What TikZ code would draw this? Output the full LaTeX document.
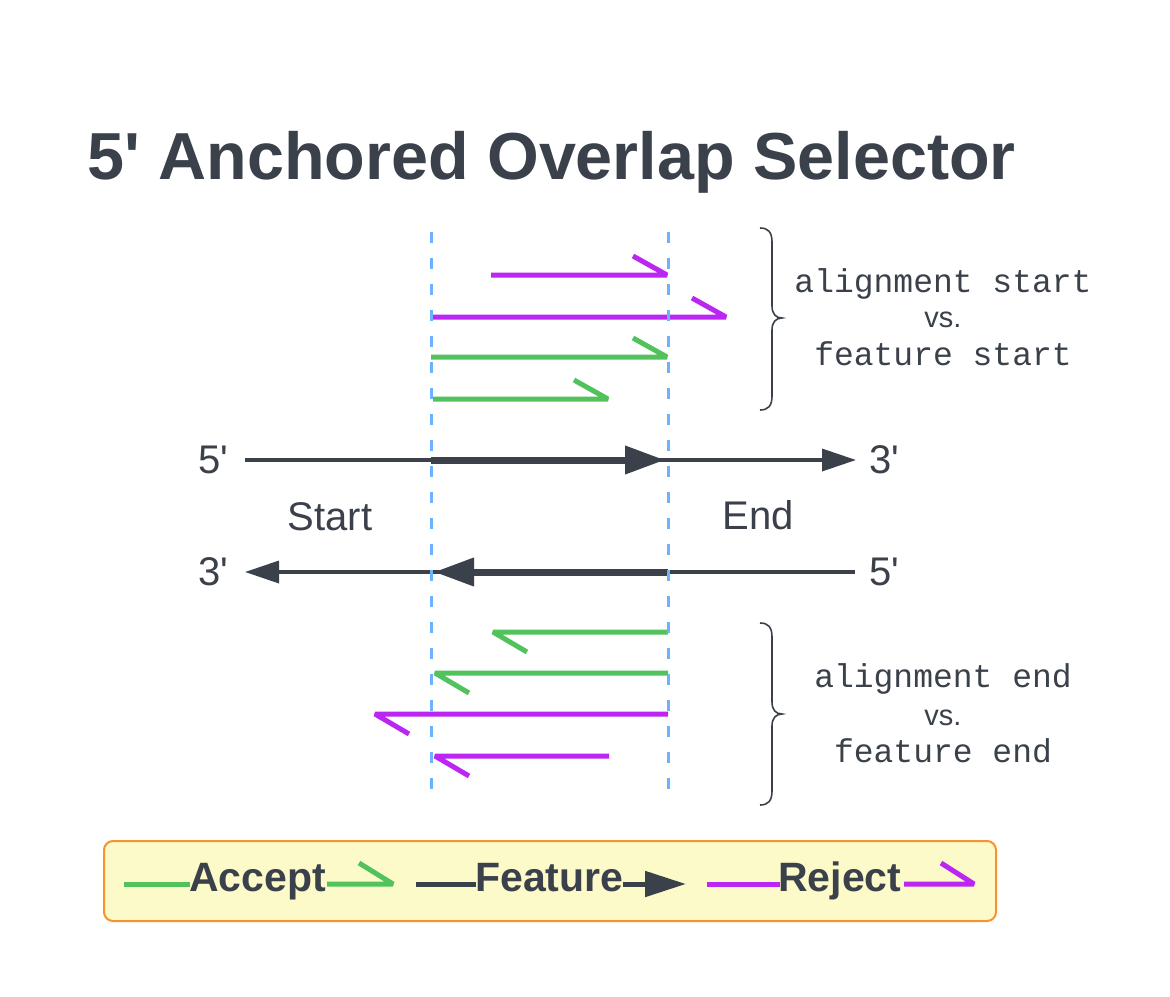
\documentclass[tikz,border=0pt]{standalone}
\usepackage{fontspec}
\setmainfont{Liberation Sans}
\newfontfamily\monof{Liberation Mono}
\usetikzlibrary{arrows.meta}
\definecolor{ink}{HTML}{3A414A}
\definecolor{acc}{HTML}{52C25C}
\definecolor{rej}{HTML}{BC26F2}
\definecolor{guide}{HTML}{6CB2FF}
\definecolor{legfill}{HTML}{FDFAC9}
\definecolor{legdraw}{HTML}{F7922E}
\newcommand{\pr}{\textquotesingle}
\begin{document}
\begin{tikzpicture}[x=1pt,y=-1pt,
  lbl/.style={inner sep=0pt, anchor=base west, text=ink, font=\fontsize{40}{48}\selectfont},
  mono/.style={inner sep=0pt, anchor=base, text=ink, font=\monof\fontsize{33}{40}\selectfont},
  vsl/.style={inner sep=0pt, anchor=base, text=ink, font=\fontsize{29}{34}\selectfont},
  legtext/.style={inner sep=0pt, anchor=base west, text=ink, font=\bfseries\fontsize{41}{48}\selectfont},
  read/.style={line width=5pt, line join=bevel, line cap=butt},
  thinstrand/.style={draw=ink, line width=3.5pt, -{Triangle[length=34pt,width=22pt]}},
  thickstrand/.style={draw=ink, line width=7pt, -{Triangle[length=40pt,width=27pt]}},
  guideline/.style={draw=guide, line width=3pt, dash pattern=on 11pt off 15pt},
  bracepath/.style={draw=ink, line width=1.6pt},
]
\useasboundingbox (0,0) rectangle (1170,996);
\fill[white] (0,0) rectangle (1170,996);

% title
\node[inner sep=0pt, anchor=base west, text=ink, font=\bfseries\fontsize{66.5}{79}\selectfont] (title) at (87,179) {5\pr{} Anchored Overlap Selector};

% coordinates for reads
\coordinate (r1s) at (491,275); \coordinate (r1e) at (667,275);
\coordinate (r2s) at (433,317); \coordinate (r2e) at (726,317);
\coordinate (r3s) at (431,357); \coordinate (r3e) at (667,357);
\coordinate (r4s) at (433,399); \coordinate (r4e) at (608,399);
\coordinate (b1s) at (668,632); \coordinate (b1e) at (493,632);
\coordinate (b2s) at (668,673); \coordinate (b2e) at (435,673);
\coordinate (b3s) at (668,714); \coordinate (b3e) at (375,714);
\coordinate (b4s) at (609,756); \coordinate (b4e) at (435,756);

% top reads
\draw[read, rej] (r1s) -- (r1e) -- ++(-34,-19);
\draw[read, rej] (r2s) -- (r2e) -- ++(-34,-19);
\draw[read, acc] (r3s) -- (r3e) -- ++(-34,-19);
\draw[read, acc] (r4s) -- (r4e) -- ++(-34,-19);

% bottom reads
\draw[read, acc] (b1s) -- (b1e) -- ++(34,20);
\draw[read, acc] (b2s) -- (b2e) -- ++(34,20);
\draw[read, rej] (b3s) -- (b3e) -- ++(34,20);
\draw[read, rej] (b4s) -- (b4e) -- ++(34,20);

% strand labels
\node[lbl] (f5) at (198,473) {5\pr};
\node[lbl] (f3) at (869,473) {3\pr};
\node[lbl] (r3) at (198,585) {3\pr};
\node[lbl] (r5) at (869,585) {5\pr};
\node[lbl, anchor=base] (start) at (330,530) {Start};
\node[lbl, anchor=base] (end) at (758,529) {End};

\coordinate (fs) at (245,460); \coordinate (fe) at (856,460);
\coordinate (ks) at (431,460); \coordinate (ke) at (665,460);
\coordinate (rs) at (855,572); \coordinate (re) at (245,572);
\coordinate (qs) at (668,572); \coordinate (qe) at (434,572);

\draw[thinstrand] (fs) -- (fe);
\draw[thickstrand] (ks) -- (ke);
\draw[thinstrand] (rs) -- (re);
\draw[thickstrand] (qs) -- (qe);

% guides
\coordinate (g1t) at (431,232); \coordinate (g1b) at (431,800);
\coordinate (g2t) at (668,232); \coordinate (g2b) at (668,800);
\draw[guideline] (g1t) -- (g1b);
\draw[guideline] (g2t) -- (g2b);

% braces
\draw[bracepath] (760,228) .. controls (768,228) and (772,232) .. (772,242) -- (772,306)
  .. controls (772,314) and (776,318) .. (782,318)
  .. controls (776,318) and (772,322) .. (772,330) -- (772,396)
  .. controls (772,406) and (768,410) .. (760,410);
\draw[bracepath] (760,623) .. controls (768,623) and (772,627) .. (772,637) -- (772,702)
  .. controls (772,710) and (776,714) .. (782,714)
  .. controls (776,714) and (772,718) .. (772,726) -- (772,791)
  .. controls (772,801) and (768,805) .. (760,805);

\node[mono] (t1) at (943,292) {alignment start};
\node[vsl] (t2) at (943,327) {vs.};
\node[mono] (t3) at (943,365) {feature start};
\node[mono] (u1) at (943,687) {alignment end};
\node[vsl] (u2) at (943,725) {vs.};
\node[mono] (u3) at (943,762) {feature end};

% legend
\node[draw=legdraw, fill=legfill, line width=2pt, rounded corners=9pt, minimum width=892pt, minimum height=80pt, inner sep=0pt] (legend) at (550,881) {};
\coordinate (la1) at (124,884); \coordinate (la2) at (190,884);
\coordinate (la3) at (327,884); \coordinate (la4) at (393,884);
\draw[read, acc] (la1) -- (la2);
\node[legtext] (acc) at (189,891) {Accept};
\draw[read, acc] (la3) -- (la4) -- ++(-34,-21);
\coordinate (lf1) at (416,884); \coordinate (lf2) at (476,884);
\coordinate (lf3) at (623,884); \coordinate (lf4) at (686,884);
\draw[draw=ink, line width=5pt] (lf1) -- (lf2);
\node[legtext] (feat) at (475,891) {Feature};
\draw[draw=ink, line width=5pt, -{Triangle[length=41pt,width=25pt]}] (lf3) -- (lf4);
\coordinate (lr1) at (707,884); \coordinate (lr2) at (780,884);
\coordinate (lr3) at (904,884); \coordinate (lr4) at (974,884);
\draw[read, rej] (lr1) -- (lr2);
\node[legtext] (rej) at (778,891) {Reject};
\draw[read, rej] (lr3) -- (lr4) -- ++(-33,-21);
\end{tikzpicture}
\end{document}
